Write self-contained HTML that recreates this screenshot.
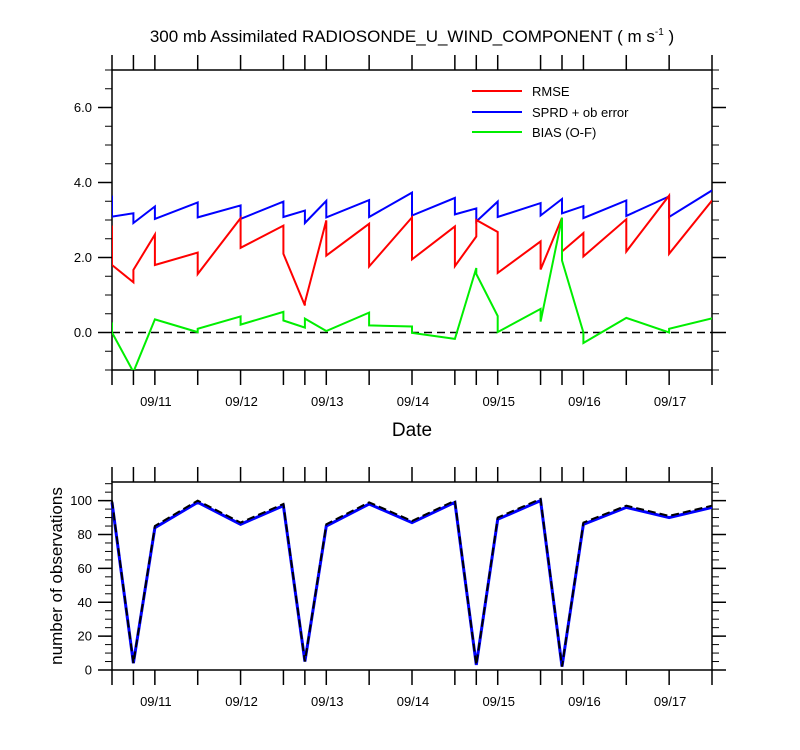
<!DOCTYPE html>
<html><head><meta charset="utf-8">
<style>
html,body{margin:0;padding:0;background:#fff;}
svg{display:block;font-family:"Liberation Sans",Arial,sans-serif;}
</style></head>
<body>
<svg id="chart" width="800" height="750" viewBox="0 0 800 750" xmlns="http://www.w3.org/2000/svg">
<text x="412" y="42" text-anchor="middle" font-size="17">300 mb Assimilated RADIOSONDE_U_WIND_COMPONENT ( m s<tspan font-size="10" dy="-7">-1</tspan><tspan dy="7"> )</tspan></text>
<text x="412" y="436" text-anchor="middle" font-size="19">Date</text>
<text transform="translate(62,576) rotate(-90)" text-anchor="middle" font-size="17">number of observations</text>
<g>
<line x1="472" y1="91" x2="522" y2="91" stroke="#ff0000" stroke-width="2"/>
<text x="532" y="96" font-size="13">RMSE</text>
<line x1="472" y1="112" x2="522" y2="112" stroke="#0000ff" stroke-width="2"/>
<text x="532" y="117" font-size="13">SPRD + ob error</text>
<line x1="472" y1="132" x2="522" y2="132" stroke="#00ee00" stroke-width="2"/>
<text x="532" y="137" font-size="13">BIAS (O-F)</text>
</g>
</svg>
<script>
// hours since 09/10 12Z
const times = [0,6,12,24,36,48,54,60,72,84,96,102,108,120,126,132,144,156,168];
// each time: [prior, posterior]
const rmsePrior = [2.85,1.34,2.61,2.13,3.05,2.85,0.72,2.99,2.90,3.07,2.83,2.56,2.68,2.43,3.06,2.65,3.02,3.65,3.52];
const rmsePost  = [1.80,1.67,1.80,1.56,2.26,2.10,0.80,2.05,1.76,1.95,1.77,3.00,1.59,1.68,2.16,2.03,2.16,2.10,3.52];
const sprdPrior = [3.65,3.18,3.36,3.47,3.39,3.49,3.25,3.51,3.53,3.73,3.59,3.31,3.49,3.45,3.56,3.37,3.52,3.63,3.79];
const sprdPost  = [3.09,2.92,3.03,3.07,3.03,3.08,2.92,3.07,3.08,3.12,3.15,2.96,3.08,3.12,3.18,3.05,3.11,3.08,3.79];
const biasPrior = [0.27,-1.05,0.35,0.01,0.43,0.55,0.13,0.04,0.53,0.16,-0.17,1.72,0.44,0.63,3.06,0.00,0.39,0.00,0.38];
const biasPost  = [0.00,-1.05,0.35,0.10,0.21,0.32,0.37,0.04,0.19,-0.01,-0.17,1.56,0.01,0.29,1.92,-0.28,0.39,0.10,0.38];
const obsUsed   = [99,4,84,99,86,97,5,85,98,87,99,3,89,100,2,86,96,90,96];
const obsPoss   = [100,4,85,100,87,98,5,86,99,88,100,3,90,101,2,87,97,91,97];
const dateLabels = ["09/11","09/12","09/13","09/14","09/15","09/16","09/17"];
const dateHours = [12,36,60,84,108,132,156];
const topYTicks = ["0.0","2.0","4.0","6.0"];
const topYVals = [0,2,4,6];
const botYTicks = ["0","20","40","60","80","100"];
const botYVals = [0,20,40,60,80,100];

const NS="http://www.w3.org/2000/svg";
const svg=document.getElementById('chart');
const X0=112,X1=712;
const xs=h=>X0+(h-0)/168*(X1-X0);
const topY=v=>70+(7-v)/8*300;
const botY=v=>670-v/111*188;
function el(tag,attrs,parent){const e=document.createElementNS(NS,tag);for(const k in attrs)e.setAttribute(k,attrs[k]);(parent||svg).appendChild(e);return e;}

function frame(yTop,yBot,yf,ymin,ymax,minorStep,majorVals,majorLabels,name){
  const g=el('g',{});
  
  
  el('rect',{x:X0,y:yTop,width:X1-X0,height:yBot-yTop,fill:'none',stroke:'#000','stroke-width':1.5},g);
  times.forEach(t=>{
    const x=xs(t);
    el('line',{x1:x,y1:yBot,x2:x,y2:yBot+15,stroke:'#000','stroke-width':1.5},g);
    el('line',{x1:x,y1:yTop,x2:x,y2:yTop-15,stroke:'#000','stroke-width':1.5},g);
  });
  for(let v=ymin;v<=ymax+1e-6;v+=minorStep){
    const y=yf(v);
    el('line',{x1:X0,y1:y,x2:X0-7,y2:y,stroke:'#000','stroke-width':1},g);
    el('line',{x1:X1,y1:y,x2:X1+7,y2:y,stroke:'#000','stroke-width':1},g);
  }
  majorVals.forEach((v,i)=>{
    const y=yf(v);
    el('line',{x1:X0,y1:y,x2:X0-14,y2:y,stroke:'#000','stroke-width':1.5},g);
    el('line',{x1:X1,y1:y,x2:X1+14,y2:y,stroke:'#000','stroke-width':1.5},g);
    const t=el('text',{x:X0-20,y:y+4.5,'text-anchor':'end','font-size':13},g);
    
    
    t.textContent=majorLabels[i];
  });
  dateHours.forEach((h,i)=>{
    const t=el('text',{x:xs(h)+1,y:yBot+36,'text-anchor':'middle','font-size':13},g);
    
    
    t.textContent=dateLabels[i];
  });
}
frame(70,370,topY,-1,7,0.5,topYVals,topYTicks,'top');
frame(482,670,botY,0,110,5,botYVals,botYTicks,'bottom');

// zero line
const z=el('line',{x1:X0,y1:topY(0),x2:X1,y2:topY(0),stroke:'#000','stroke-width':1.5,'stroke-dasharray':'8,5'});



const clip=el('clipPath',{id:'topclip'});
el('rect',{x:X0,y:70,width:X1-X0,height:300},clip);

function saw(pr,po,color,name){
  let d='';
  times.forEach((t,i)=>{
    d+=(i?'L':'M')+xs(t).toFixed(1)+','+topY(pr[i]).toFixed(1)+'L'+xs(t).toFixed(1)+','+topY(po[i]).toFixed(1);
  });
  const p=el('path',{d:d,fill:'none',stroke:color,'stroke-width':2,'clip-path':'url(#topclip)'});
  
  
}
saw(sprdPrior,sprdPost,'#0000ff','sprd-line');
saw(rmsePrior,rmsePost,'#ff0000','rmse-line');
saw(biasPrior,biasPost,'#00ee00','bias-line');

function line(vals,attrs,name){
  const d=times.map((t,i)=>(i?'L':'M')+xs(t).toFixed(1)+','+botY(vals[i]).toFixed(1)).join('');
  const p=el('path',Object.assign({d:d,fill:'none'},attrs));
  
  
}
line(obsUsed,{stroke:'#0000ff','stroke-width':3},'obs-used-line');
line(obsPoss,{stroke:'#000','stroke-width':2,'stroke-dasharray':'8,4'},'obs-possible-line');
</script>
</body></html>
